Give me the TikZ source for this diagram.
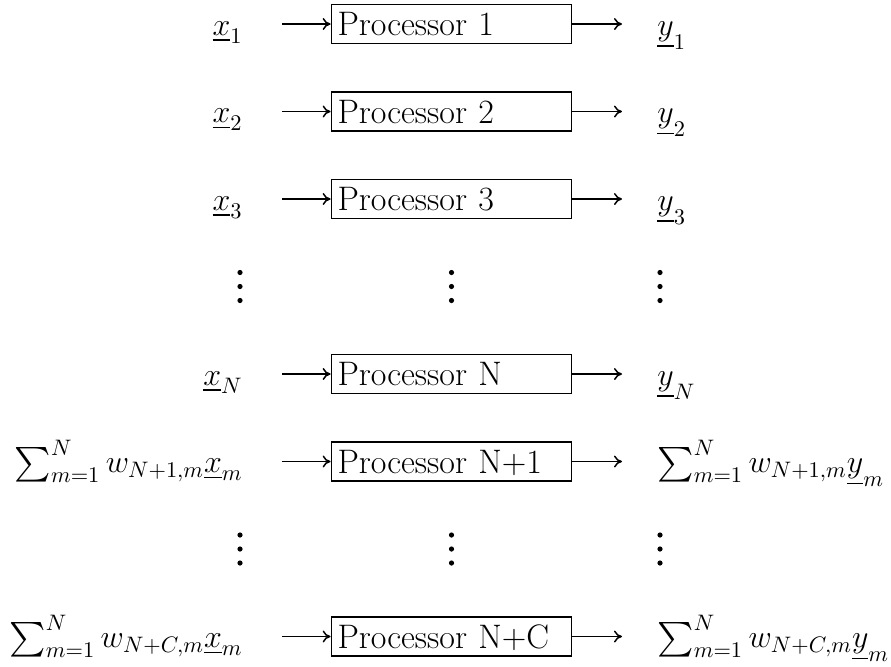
\RequirePackage{fix-cm}
\documentclass[tikz,border=0pt]{standalone}
\usepackage{exscale}
\usetikzlibrary{arrows.meta}
\begin{document}
\begin{tikzpicture}[x=0.5pt,y=-0.5pt,
  font=\fontsize{16}{19}\selectfont,
  procbox/.style={draw, line width=0.9pt, text width=114pt, inner xsep=3pt,
    inner ysep=0pt, minimum height=19.5pt, align=left, text depth=0pt,
    font=\fontsize{17}{20}\selectfont},
  flow/.style={-{Computer Modern Rightarrow[length=4pt,width=6pt]}, line width=0.75pt},
  inlabel/.style={anchor=base east, inner sep=0pt},
  outlabel/.style={anchor=base west, inner sep=0pt},
  dot/.style={fill, circle, inner sep=0pt, minimum size=2.6pt}]
\useasboundingbox (0,0) rectangle (891,666);

% row positions: 24, 111.5, 199, (dots 286.5), 374, 461.5, (dots 549), 636.5
\foreach \r/\n/\lab/\out/\txt in {
  24/1/{$\underline{x}_1$}/{$\underline{y}_1$}/{Processor 1},
  111.5/2/{$\underline{x}_2$}/{$\underline{y}_2$}/{Processor 2},
  199/3/{$\underline{x}_3$}/{$\underline{y}_3$}/{Processor 3},
  374/N/{$\underline{x}_N$}/{$\underline{y}_N$}/{Processor N},
  461.5/N1/{$\sum_{m=1}^{N} w_{N+1,m}\underline{x}_m$}/{$\sum_{m=1}^{N} w_{N+1,m}\underline{y}_m$}/{Processor N+1},
  636.5/NC/{$\sum_{m=1}^{N} w_{N+C,m}\underline{x}_m$}/{$\sum_{m=1}^{N} w_{N+C,m}\underline{y}_m$}/{Processor N+C}}{
  \node[procbox] (p\n) at (451.5,\r) {\txt};
  \node[inlabel] (in\n) at (243,\r+11) {\lab};
  \node[outlabel] (out\n) at (657,\r+11) {\out};
  \coordinate (a\n) at (282,\r);
  \coordinate (b\n) at (622,\r);
  \draw[flow] (a\n) -- (p\n.west);
  \draw[flow] (p\n.east) -- (b\n);
}

% vertical ellipses between the rows
\foreach \y in {286.5, 549}{
  \foreach \x in {240, 451.5, 660}{
    \foreach \d in {-14, 0, 14}{
      \node[dot] at (\x,\y+\d) {};
    }
  }
}
\end{tikzpicture}
\end{document}
